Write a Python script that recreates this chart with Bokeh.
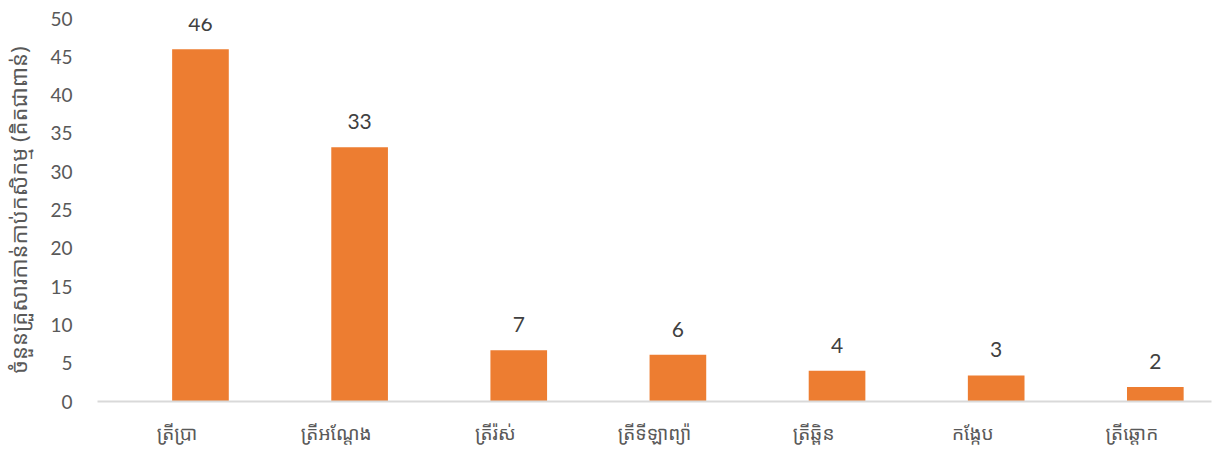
from bokeh.plotting import figure
from bokeh.models import Range1d, FactorRange, ColumnDataSource, FixedTicker, LabelSet
from bokeh.transform import dodge
from bokeh.core.properties import value
from bokeh.embed import file_html
from bokeh.resources import INLINE

# ---- data ----
categories = ["ត្រីប្រា", "ត្រីអណ្ដែង", "ត្រីរ៉ស់", "ត្រីទីឡាព្យ៉ា", "ត្រីឆ្ពិន", "កង្កែប", "ត្រីឆ្ដោក"]
values = [46.0, 33.2, 6.7, 6.1, 4.0, 3.4, 1.9]
value_labels = ["46", "33", "7", "6", "4", "3", "2"]
y_ticks = [0, 5, 10, 15, 20, 25, 30, 35, 40, 45, 50]
y_title = "ចំនួនគ្រួសារកាន់កាប់កសិកម្ម (គិតជាពាន់)"

KH_FONT = "Noto Sans Khmer, Khmer OS, Noto Sans, sans-serif"
NUM_FONT = "Lato"

source = ColumnDataSource(dict(cat=categories, val=values, lab=value_labels))

p = figure(width=1216, height=449, output_backend="svg", toolbar_location=None,
           x_range=FactorRange(factors=categories, range_padding=0),
           y_range=Range1d(0, 50),
           min_border_left=94, min_border_right=5, min_border_top=18, min_border_bottom=48)

p.vbar(x=dodge("cat", 0.147, range=p.x_range), top="val", width=0.356, source=source,
       fill_color="#ED7D31", line_color=None)

labels = LabelSet(x=dodge("cat", 0.147, range=p.x_range), y="val", text="lab", source=source,
                  text_align="center", text_baseline="alphabetic", y_offset=18,
                  text_font=value(NUM_FONT), text_font_size="21px", text_color="#404040")
p.add_layout(labels)

p.outline_line_color = None
p.xgrid.grid_line_color = None
p.ygrid.grid_line_color = None
p.background_fill_color = "white"
p.border_fill_color = "white"

# y axis
p.yaxis.ticker = FixedTicker(ticks=y_ticks)
p.yaxis.axis_line_color = None
p.yaxis.major_tick_line_color = None
p.yaxis.minor_tick_line_color = None
p.yaxis.major_label_text_font = NUM_FONT
p.yaxis.major_label_text_font_size = "19px"
p.yaxis.major_label_text_color = "#595959"
p.yaxis.major_label_standoff = 19
p.yaxis.axis_label = y_title
p.yaxis.axis_label_text_font = KH_FONT
p.yaxis.axis_label_text_font_size = "22px"
p.yaxis.axis_label_text_font_style = "normal"
p.yaxis.axis_label_text_color = "#595959"
p.yaxis.axis_label_standoff = 14

# x axis
p.xaxis.axis_line_color = "#D9D9D9"
p.xaxis.axis_line_width = 2
p.xaxis.major_tick_line_color = None
p.xaxis.minor_tick_line_color = None
p.xaxis.major_label_text_font = KH_FONT
p.xaxis.major_label_text_font_size = "19px"
p.xaxis.major_label_text_color = "#595959"
p.xaxis.major_label_standoff = 12

open("out.html", "w").write(file_html(p, INLINE))
